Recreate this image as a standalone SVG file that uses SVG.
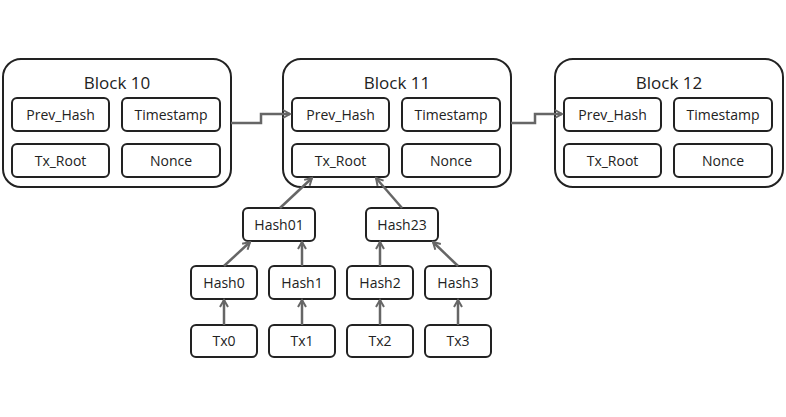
<svg xmlns="http://www.w3.org/2000/svg" width="786" height="417" viewBox="0 0 786 417">
<style>
.blk{fill:#fff;stroke:#222;stroke-width:2}
.box{fill:#fff;stroke:#222;stroke-width:2}
text{font-family:"Open Sans","Liberation Sans",sans-serif;fill:#222;text-anchor:middle}
.t{font-size:17px}.s{font-size:14px}
.c{fill:none;stroke:#666;stroke-width:2.5;marker-end:url(#a)}
</style>
<defs><marker id="a" viewBox="0 0 10 10" refX="8" refY="5" markerWidth="4" markerHeight="4" orient="auto"><path d="M1,1 L8,5 L1,9" fill="none" stroke="#666" stroke-width="2"/></marker></defs>
<rect width="786" height="417" fill="#fff"/>
<g id="block10"><rect class="blk" x="3" y="59" width="228" height="128" rx="18"/><text class="t" x="117" y="89">Block 10</text>
<rect class="box" x="12" y="98" width="97" height="33" rx="5"/><text class="s" x="60.5" y="120">Prev_Hash</text>
<rect class="box" x="122" y="98" width="98" height="33" rx="5"/><text class="s" x="171" y="120">Timestamp</text>
<rect class="box" x="12" y="144" width="97" height="33" rx="5"/><text class="s" x="60.5" y="166">Tx_Root</text>
<rect class="box" x="122" y="144" width="98" height="33" rx="5"/><text class="s" x="171" y="166">Nonce</text></g>
<g id="block11"><rect class="blk" x="283" y="59" width="228" height="128" rx="18"/><text class="t" x="397" y="89">Block 11</text>
<rect class="box" x="292" y="98" width="97" height="33" rx="5"/><text class="s" x="340.5" y="120">Prev_Hash</text>
<rect class="box" x="402" y="98" width="98" height="33" rx="5"/><text class="s" x="451" y="120">Timestamp</text>
<rect class="box" x="292" y="144" width="97" height="33" rx="5"/><text class="s" x="340.5" y="166">Tx_Root</text>
<rect class="box" x="402" y="144" width="98" height="33" rx="5"/><text class="s" x="451" y="166">Nonce</text></g>
<g id="block12"><rect class="blk" x="555" y="59" width="228" height="128" rx="18"/><text class="t" x="669" y="89">Block 12</text>
<rect class="box" x="564" y="98" width="97" height="33" rx="5"/><text class="s" x="612.5" y="120">Prev_Hash</text>
<rect class="box" x="674" y="98" width="98" height="33" rx="5"/><text class="s" x="723" y="120">Timestamp</text>
<rect class="box" x="564" y="144" width="97" height="33" rx="5"/><text class="s" x="612.5" y="166">Tx_Root</text>
<rect class="box" x="674" y="144" width="98" height="33" rx="5"/><text class="s" x="723" y="166">Nonce</text></g>
<g id="hash01"><rect class="box" x="243" y="208" width="72" height="33" rx="5"/><text class="s" x="279" y="230">Hash01</text></g>
<g id="hash23"><rect class="box" x="366" y="208" width="72" height="33" rx="5"/><text class="s" x="402" y="230">Hash23</text></g>
<g id="hash0"><rect class="box" x="191" y="266" width="66" height="33" rx="5"/><text class="s" x="224" y="288">Hash0</text></g>
<g id="hash1"><rect class="box" x="269" y="266" width="66" height="33" rx="5"/><text class="s" x="302" y="288">Hash1</text></g>
<g id="hash2"><rect class="box" x="347" y="266" width="66" height="33" rx="5"/><text class="s" x="380" y="288">Hash2</text></g>
<g id="hash3"><rect class="box" x="425" y="266" width="66" height="33" rx="5"/><text class="s" x="458" y="288">Hash3</text></g>
<g id="tx0"><rect class="box" x="191" y="325" width="66" height="32" rx="5"/><text class="s" x="224" y="346">Tx0</text></g>
<g id="tx1"><rect class="box" x="269" y="325" width="66" height="32" rx="5"/><text class="s" x="302" y="346">Tx1</text></g>
<g id="tx2"><rect class="box" x="347" y="325" width="66" height="32" rx="5"/><text class="s" x="380" y="346">Tx2</text></g>
<g id="tx3"><rect class="box" x="425" y="325" width="66" height="32" rx="5"/><text class="s" x="458" y="346">Tx3</text></g>
<g id="connectors">
<path class="c" d="M231,123 H261 V114 H290"/>
<path class="c" d="M511,123 H535 V114 H562"/>
<path class="c" d="M280,208 L312,178"/>
<path class="c" d="M402,208 L376,178"/>
<path class="c" d="M224,266 L250,242"/>
<path class="c" d="M302,266 V242"/>
<path class="c" d="M380,266 V242"/>
<path class="c" d="M458,266 L433,242"/>
<path class="c" d="M224,325 V300"/>
<path class="c" d="M302,325 V300"/>
<path class="c" d="M380,325 V300"/>
<path class="c" d="M458,325 V300"/>
</g>
</svg>
